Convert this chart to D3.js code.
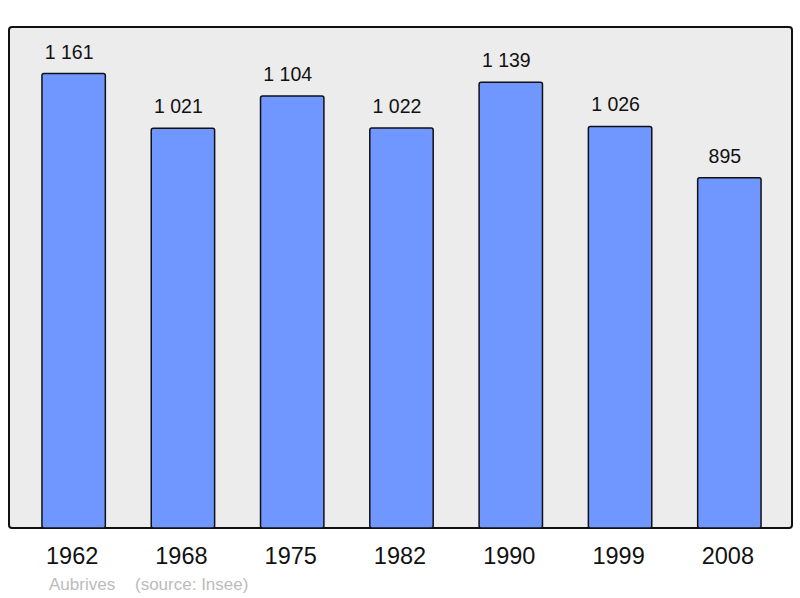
<!DOCTYPE html>
<html>
<head>
<meta charset="utf-8">
<script src="https://cdn.jsdelivr.net/npm/d3@7"></script>
<style>
  body { margin: 0; background: #fff; }
  text { font-family: "Liberation Sans", Arial, sans-serif; }
</style>
</head>
<body>
<div id="chart"></div>
<script>
// Chart data
const years = ["1962", "1968", "1975", "1982", "1990", "1999", "2008"];
const population = [1161, 1021, 1104, 1022, 1139, 1026, 895];
const commune = "Aubrives";
const source = "(source: Insee)";

const W = 800, H = 598;
const frame = {left: 9, top: 27, right: 792, bottom: 528};

const svg = d3.select("#chart")
    .append("svg")
    .attr("width", W)
    .attr("height", H);

// Background frame
svg.append("rect")
    .attr("x", frame.left)
    .attr("y", frame.top)
    .attr("width", frame.right - frame.left)
    .attr("height", frame.bottom - frame.top)
    .attr("rx", 3)
    .attr("fill", "#ececec")
    .attr("stroke", "#111")
    .attr("stroke-width", 2);

// Scales
const x = d3.scaleBand()
    .domain(years)
    .range([19, 784])
    .paddingInner(0.42)
    .paddingOuter(0.21);

const y = d3.scaleLinear()
    .domain([0, 1280])
    .range([frame.bottom, frame.top]);

const data = years.map((yr, i) => ({year: yr, value: population[i]}));

// Bars
svg.selectAll(".bar")
    .data(data)
    .enter().append("rect")
    .attr("class", "bar")
    .attr("x", d => x(d.year))
    .attr("y", d => y(d.value))
    .attr("width", x.bandwidth())
    .attr("height", d => y(0) - y(d.value))
    .attr("rx", 2)
    .attr("fill", "#7096ff")
    .attr("stroke", "#111")
    .attr("stroke-width", 1.5);

// Value labels (sit slightly left of bar centre, like the original)
svg.selectAll(".val")
    .data(data)
    .enter().append("text")
    .attr("class", "val")
    .attr("x", d => x(d.year) + x.bandwidth() / 2 - 4.5)
    .attr("y", d => y(d.value) - 15)
    .attr("text-anchor", "middle")
    .attr("font-size", 19.5)
    .attr("fill", "#111")
    .text(d => d3.format(",")(d.value).replace(/,/g, " "));

// Year axis (no line, just labels)
const xAxis = svg.append("g")
    .attr("transform", "translate(-1.5," + frame.bottom + ")")
    .call(d3.axisBottom(x).tickSize(0).tickPadding(19));
xAxis.select(".domain").remove();
xAxis.selectAll("text")
    .attr("font-size", 23.5)
    .attr("fill", "#111")
    .style("font-family", "'Liberation Sans', Arial, sans-serif");

// Source note
svg.append("text")
    .attr("x", 49)
    .attr("y", 590)
    .attr("font-size", 17)
    .attr("fill", "#bbb")
    .text(commune);
svg.append("text")
    .attr("x", 135)
    .attr("y", 590)
    .attr("font-size", 17)
    .attr("fill", "#bbb")
    .text(source);
</script>
</body>
</html>
